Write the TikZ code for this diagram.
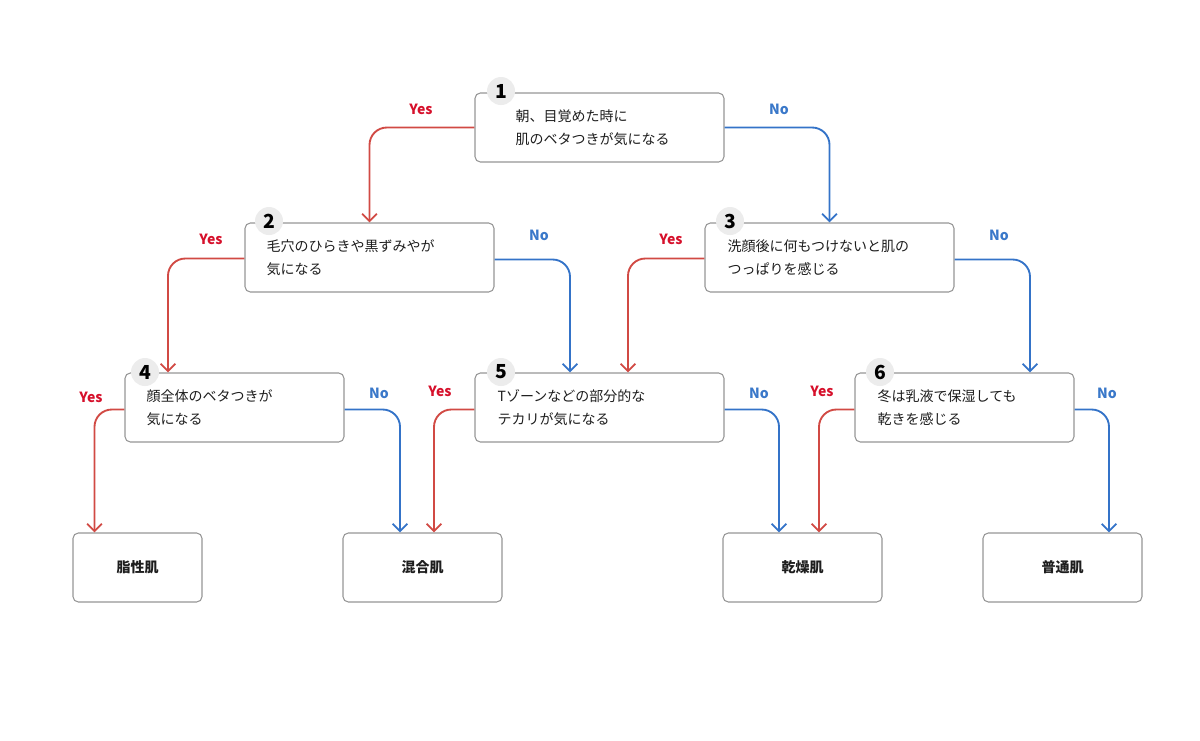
\documentclass[tikz,border=0pt]{standalone}
\usepackage{fontspec}
\setmainfont{Noto Sans CJK JP}
\usetikzlibrary{arrows.meta,calc}
\definecolor{yesline}{RGB}{209,74,68}
\definecolor{noline}{RGB}{52,115,200}
\definecolor{yestext}{RGB}{214,16,43}
\definecolor{notext}{RGB}{58,120,201}
\definecolor{boxgray}{RGB}{150,150,150}
\definecolor{badgegray}{RGB}{236,236,236}
\definecolor{txt}{RGB}{30,30,30}
\begin{document}
\begin{tikzpicture}[x=0.75pt,y=-0.75pt,
  qbox/.style={draw=boxgray, line width=0.8pt, fill=white, rounded corners=4pt, minimum height=51.75pt, inner sep=0pt},
  qtext/.style={anchor=west, align=left, text=txt, font=\fontsize{10.5}{17.25}\selectfont, inner sep=0pt},
  rtext/.style={text=txt, font=\bfseries\fontsize{10.5}{12}\selectfont},
  badge/.style={circle, fill=badgegray, minimum size=21pt, inner sep=0pt, text=black, font=\bfseries\fontsize{14.5}{14.5}\selectfont},
  yesarrow/.style={draw=yesline, line width=1.4pt, rounded corners=13pt, -{Straight Barb[length=5.5pt,width=11pt]}},
  noarrow/.style={draw=noline, line width=1.4pt, rounded corners=13pt, -{Straight Barb[length=5.5pt,width=11pt]}},
  yeslbl/.style={text=yestext, font=\bfseries\fontsize{10.5}{12}\selectfont, inner sep=0pt},
  nolbl/.style={text=notext, font=\bfseries\fontsize{10.5}{12}\selectfont, inner sep=0pt}]
\useasboundingbox (0,0) rectangle (1200,740);

% question boxes
\node[qbox, minimum width=186.75pt] (q1) at (599.5,127.5) {};
\node[qbox, minimum width=186.75pt] (q2) at (369.5,257.5) {};
\node[qbox, minimum width=186.75pt] (q3) at (829.5,257.5) {};
\node[qbox, minimum width=164.25pt] (q4) at (234.5,407.5) {};
\node[qbox, minimum width=186.75pt] (q5) at (599.5,407.5) {};
\node[qbox, minimum width=164.25pt] (q6) at (964.5,407.5) {};

% result boxes
\node[qbox, minimum width=96.75pt, rtext] (r1) at (137.5,567.5) {脂性肌};
\node[qbox, minimum width=119.25pt, rtext] (r2) at (422.5,567.5) {混合肌};
\node[qbox, minimum width=119.25pt, rtext] (r3) at (802.5,567.5) {乾燥肌};
\node[qbox, minimum width=119.25pt, rtext] (r4) at (1062.5,567.5) {普通肌};

% question texts
\node[qtext] (t1) at ($(q1.west)+(41,0)$) {朝、目覚めた時に\\肌のベタつきが気になる};
\node[qtext] (t2) at ($(q2.west)+(22,0)$) {毛穴のひらきや黒ずみやが\\気になる};
\node[qtext] (t3) at ($(q3.west)+(23,0)$) {洗顔後に何もつけないと肌の\\つっぱりを感じる};
\node[qtext] (t4) at ($(q4.west)+(22,0)$) {顔全体のベタつきが\\気になる};
\node[qtext] (t5) at ($(q5.west)+(23,0)$) {Tゾーンなどの部分的な\\テカリが気になる};
\node[qtext] (t6) at ($(q6.west)+(23,0)$) {冬は乳液で保湿しても\\乾きを感じる};

% connectors
\draw[yesarrow] (q1.west) -| (q2.north);
\draw[noarrow] (q1.east) -| (q3.north);
\draw[yesarrow] ($(q2.west)+(0,1)$) -| ($(q4.north)+(-66.5,0)$);
\draw[noarrow] ($(q2.east)+(0,2)$) -| ($(q5.north)+(-29.5,0)$);
\draw[yesarrow] ($(q3.west)+(0,1)$) -| ($(q5.north)+(28.5,0)$);
\draw[noarrow] ($(q3.east)+(0,2)$) -| ($(q6.north)+(65.5,0)$);
\draw[yesarrow] ($(q4.west)+(0,2)$) -| ($(r1.north)+(-43,0)$);
\draw[noarrow] ($(q4.east)+(0,2)$) -| ($(r2.north)+(-22.5,0)$);
\draw[yesarrow] ($(q5.west)+(0,2)$) -| ($(r2.north)+(11.5,0)$);
\draw[noarrow] ($(q5.east)+(0,2)$) -| ($(r3.north)+(-23.5,0)$);
\draw[yesarrow] ($(q6.west)+(0,2)$) -| ($(r3.north)+(16.5,0)$);
\draw[noarrow] ($(q6.east)+(0,2)$) -| ($(r4.north)+(46.5,0)$);

% labels
\node[yeslbl] (y1) at (421,109) {Yes};
\node[nolbl] (n1) at (779,109) {No};
\node[yeslbl] (y2) at (211,239) {Yes};
\node[nolbl] (n2) at (539,235) {No};
\node[yeslbl] (y3) at (671,239) {Yes};
\node[nolbl] (n3) at (999,235) {No};
\node[yeslbl] (y4) at (91,397) {Yes};
\node[nolbl] (n4) at (379,393) {No};
\node[yeslbl] (y5) at (440,391) {Yes};
\node[nolbl] (n5) at (759,393) {No};
\node[yeslbl] (y6) at (822,391) {Yes};
\node[nolbl] (n6) at (1107,393) {No};

% badges
\node[badge] (b1) at (501,91) {1};
\node[badge] (b2) at (269,221) {2};
\node[badge] (b3) at (730,221) {3};
\node[badge] (b4) at (145,372) {4};
\node[badge] (b5) at (501,372) {5};
\node[badge] (b6) at (880,372) {6};
\end{tikzpicture}
\end{document}
